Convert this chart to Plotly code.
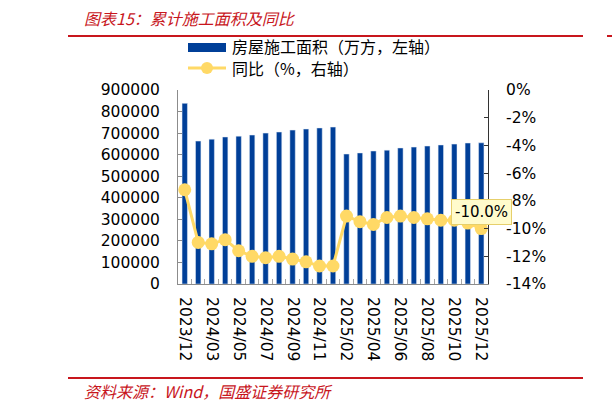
import plotly.graph_objects as go

categories = ["2023/12", "2024/02", "2024/03", "2024/04", "2024/05", "2024/06", "2024/07",
              "2024/08", "2024/09", "2024/10", "2024/11", "2024/12", "2025/02", "2025/03",
              "2025/04", "2025/05", "2025/06", "2025/07", "2025/08", "2025/09", "2025/10",
              "2025/11", "2025/12"]
area = [838000, 663000, 672000, 682000, 686000, 691000, 700000, 705000, 714000, 719000,
        724000, 728000, 603000, 608000, 617000, 621000, 631000, 635000, 640000, 645000,
        649000, 654000, 655000]
yoy = [-7.2, -11.0, -11.1, -10.8, -11.6, -12.0, -12.1, -12.0, -12.2, -12.4, -12.7, -12.7,
       -9.1, -9.5, -9.7, -9.2, -9.1, -9.2, -9.3, -9.4, -9.4, -9.6, -10.0]
left_ticks = [0, 100000, 200000, 300000, 400000, 500000, 600000, 700000, 800000, 900000]
right_ticks = [0, -2, -4, -6, -8, -10, -12, -14]
right_labels = [f"{v}%" for v in right_ticks]

x = list(range(len(categories)))
BLUE = "#003F98"
GOLD = "#FFD966"
RED = "#C8161D"
TICKFONT = dict(family="DejaVu Sans", size=15.5, color="black")
CJK = "Noto Sans CJK SC"

fig = go.Figure()
fig.add_trace(go.Bar(x=x, y=area, name="房屋施工面积（万方，左轴）", marker_color=BLUE,
                     yaxis="y", showlegend=False))
fig.add_trace(go.Scatter(x=x, y=yoy, name="同比（%，右轴）", mode="lines+markers",
                         line=dict(color=GOLD, width=3),
                         marker=dict(color=GOLD, size=13), yaxis="y2", showlegend=False))

L, R, T, B = 178, 488, 90, 284
def px(v):
    return (v - L) / (R - L)
def py(v):
    return (B - v) / (B - T)

fig.update_layout(
    width=612, height=410,
    margin=dict(l=L, r=612 - R, t=T, b=410 - B),
    paper_bgcolor="white", plot_bgcolor="white",
    bargap=0.6,
    xaxis=dict(range=[-0.5, len(categories) - 0.5], tickvals=x[::2], ticktext=categories[::2],
               tickangle=90, tickfont=TICKFONT, showgrid=False, zeroline=False,
               showline=True, linecolor="#8c8c8c", linewidth=1, ticks="",
               ticklabelstandoff=9,
               minor=dict(tickvals=[i + 0.5 for i in x[:-1]], ticks="inside", ticklen=5,
                          tickcolor="#a6a6a6", showgrid=False)),
    yaxis=dict(range=[0, 900000], tickvals=left_ticks, tickformat="d", tickfont=TICKFONT,
               showgrid=False, zeroline=False, showline=True, linecolor="#8c8c8c",
               ticks="inside", ticklen=4, tickcolor="#8c8c8c", ticklabelstandoff=14),
    yaxis2=dict(range=[-14, 0], tickvals=right_ticks, ticktext=right_labels, tickfont=TICKFONT,
                overlaying="y", side="right", showgrid=False, zeroline=False,
                showline=True, linecolor="#333333", ticks="inside", ticklen=4,
                tickcolor="#333333", ticklabelstandoff=14),
)

shapes = [
    dict(type="line", xref="paper", yref="paper", x0=px(68), x1=px(583), y0=py(36), y1=py(36),
         line=dict(color=RED, width=2)),
    dict(type="line", xref="paper", yref="paper", x0=px(607), x1=px(612), y0=py(36), y1=py(36),
         line=dict(color=RED, width=2)),
    dict(type="line", xref="paper", yref="paper", x0=px(68), x1=px(583), y0=py(378), y1=py(378),
         line=dict(color=RED, width=2)),
    dict(type="rect", xref="paper", yref="paper", x0=px(188), x1=px(226), y0=py(52), y1=py(43),
         fillcolor=BLUE, line=dict(width=0)),
    dict(type="line", xref="paper", yref="paper", x0=px(188), x1=px(226), y0=py(68), y1=py(68),
         line=dict(color=GOLD, width=3)),
    dict(type="circle", xref="paper", yref="paper", x0=px(201), x1=px(213), y0=py(74), y1=py(62),
         fillcolor=GOLD, line=dict(width=0)),
]
fig.update_layout(shapes=shapes)

ann = [
    dict(text="图表15：累计施工面积及同比", x=px(82), y=py(18), xref="paper", yref="paper",
         xanchor="left", yanchor="middle", showarrow=False,
         font=dict(family=CJK, size=16, color=RED, style="italic")),
    dict(text="房屋施工面积（万方，左轴）", x=px(231), y=py(46.5), xref="paper", yref="paper",
         xanchor="left", yanchor="middle", showarrow=False, borderpad=0,
         font=dict(family=CJK, size=16, color="black")),
    dict(text="同比（%，右轴）", x=px(231), y=py(68.5), xref="paper", yref="paper",
         xanchor="left", yanchor="middle", showarrow=False, borderpad=0,
         font=dict(family=CJK, size=16, color="black")),
    dict(text="资料来源：Wind，国盛证券研究所", x=px(82), y=py(391), xref="paper", yref="paper",
         xanchor="left", yanchor="middle", showarrow=False,
         font=dict(family=CJK, size=16, color=RED, style="italic")),
    dict(text=f"{yoy[-1]:.1f}%", x=x[-1], y=yoy[-1], xref="x", yref="y2",
         xanchor="center", yanchor="middle", yshift=17, showarrow=False,
         bgcolor="#FFFBCC", bordercolor="#E6CF6B", borderwidth=1, borderpad=3,
         font=dict(family="DejaVu Sans", size=15, color="black")),
]
fig.update_layout(annotations=ann)

fig.write_html("out.html")
